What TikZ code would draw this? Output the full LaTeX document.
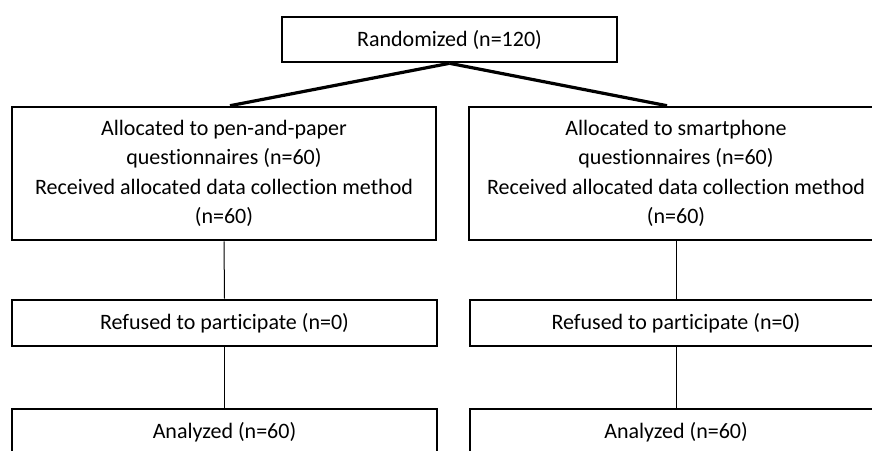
\documentclass[tikz,border=0pt]{standalone}
\usepackage{fontspec}
\setmainfont{Carlito}[Ligatures={NoCommon}]
\usetikzlibrary{calc}
\begin{document}
\begin{tikzpicture}[x=1pt,y=-1pt,
  box/.style={draw, line width=2.6pt, inner sep=0pt, align=center,
    font=\fontsize{22}{29.3}\selectfont},
  link/.style={line width=1pt},
  split/.style={line width=3.2pt}]
\useasboundingbox (0,0) rectangle (872,450);
\clip (0,0) rectangle (872,450);
\node[box, minimum width=335pt, minimum height=45pt] (rand) at (449.5,39.5) {Randomized (n=120)};
\node[box, minimum width=424pt, minimum height=133pt] (allocL) at (224,173.5)
  {Allocated to pen-and-paper\\questionnaires (n=60)\\Received allocated data collection method\\(n=60)};
\node[box, minimum width=414pt, minimum height=133pt] (allocR) at (676,173.5)
  {Allocated to smartphone\\questionnaires (n=60)\\Received allocated data collection method\\(n=60)};
\node[box, minimum width=425pt, minimum height=46pt] (refL) at (224.5,323) {Refused to participate (n=0)};
\node[box, minimum width=412pt, minimum height=46pt] (refR) at (676,323) {Refused to participate (n=0)};
\node[box, minimum width=425pt, minimum height=46pt] (anaL) at (224.5,432) {Analyzed (n=60)};
\node[box, minimum width=412pt, minimum height=46pt] (anaR) at (676,432) {Analyzed (n=60)};
\draw[split] (rand.south) -- ($(allocL.north)+(6,0)$);
\draw[split] (rand.south) -- ($(allocR.north)+(-9,0)$);
\draw[link] (allocL.south) -- (refL.north);
\draw[link] (allocR.south) -- (refR.north);
\draw[link] (refL.south) -- (anaL.north);
\draw[link] (refR.south) -- (anaR.north);
\end{tikzpicture}
\end{document}
